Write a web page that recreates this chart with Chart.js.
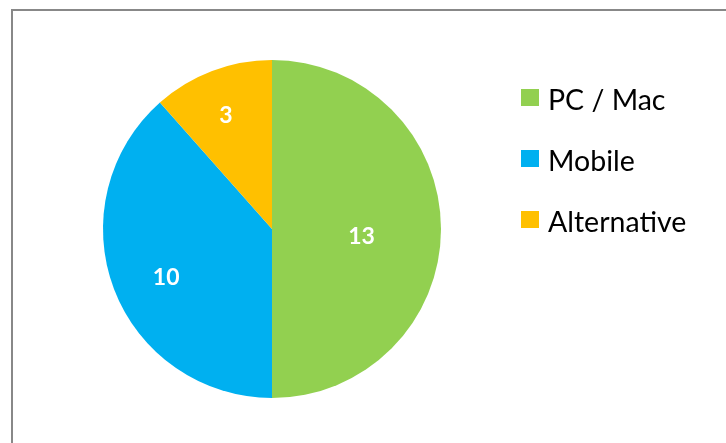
<!DOCTYPE html>
<html>
<head>
<meta charset="utf-8">
<script src="https://cdn.jsdelivr.net/npm/chart.js@4"></script>
<style>
  html, body { margin: 0; padding: 0; background: #fff; }
  body { width: 726px; height: 443px; position: relative; overflow: hidden; }
  .frame {
    position: absolute; left: 11px; top: 9px; width: 740px; height: 460px;
    border-left: 2px solid #888; border-top: 2px solid #888;
  }
  .chart-container { position: absolute; left: 0; top: 0; width: 726px; height: 443px; }
  .legend { position: absolute; left: 521px; top: 82px; font-family: Lato, sans-serif; font-size: 28.5px; color: #000; }
  .legend div { height: 61px; display: flex; align-items: flex-start; }
  .legend span.box { display: inline-block; width: 18px; height: 17px; margin-right: 9px; margin-top: 7px; }
</style>
</head>
<body>
<div class="frame"></div>
<div class="chart-container">
  <canvas id="pie" width="726" height="443"></canvas>
</div>
<div class="legend" id="legend"></div>
<script>
const labels = ['PC / Mac', 'Mobile', 'Alternative'];
const values = [13, 10, 3];
const colors = ['#92D050', '#00B0F0', '#FFC000'];
// how far out (fraction of radius) each value label sits
const labelRadius = [0.53, 0.67, 0.77];

const valueLabels = {
  id: 'valueLabels',
  afterDatasetsDraw(chart) {
    const ctx = chart.ctx;
    const meta = chart.getDatasetMeta(0);
    ctx.save();
    ctx.fillStyle = '#fff';
    ctx.font = 'bold 23px Lato, sans-serif';
    ctx.textAlign = 'center';
    ctx.textBaseline = 'middle';
    meta.data.forEach((arc, i) => {
      const mid = (arc.startAngle + arc.endAngle) / 2;
      const r = arc.outerRadius * labelRadius[i];
      const x = arc.x + Math.cos(mid) * r;
      const y = arc.y + Math.sin(mid) * r + 8;
      ctx.fillText(String(values[i]), x, y);
    });
    ctx.restore();
  }
};

const ctx = document.getElementById('pie').getContext('2d');
new Chart(ctx, {
  type: 'pie',
  data: {
    labels: labels,
    datasets: [{
      data: values,
      backgroundColor: colors,
      borderWidth: 0
    }]
  },
  options: {
    responsive: false,
    animation: false,
    layout: { padding: { left: 103, top: 60, bottom: 45, right: 285 } },
    plugins: {
      legend: { display: false },
      tooltip: { enabled: false }
    }
  },
  plugins: [valueLabels]
});

const legend = document.getElementById('legend');
labels.forEach((l, i) => {
  const row = document.createElement('div');
  row.innerHTML = '<span class="box" style="background:' + colors[i] + '"></span><span>' + l + '</span>';
  legend.appendChild(row);
});
</script>
</body>
</html>
